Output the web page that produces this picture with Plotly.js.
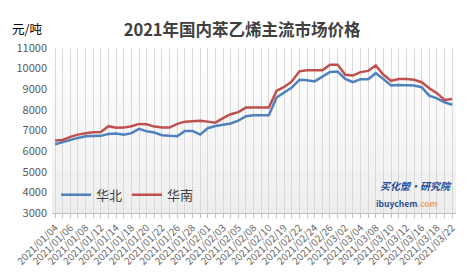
<!DOCTYPE html>
<html>
<head>
<meta charset="utf-8">
<script src="https://cdn.plot.ly/plotly-3.0.1.min.js"></script>
<style>html,body{margin:0;padding:0;background:#fff;}#chart{width:472px;height:274px;}</style>
</head>
<body>
<div id="chart"></div>
<script>
const dates = ["2021/01/04","2021/01/05","2021/01/06","2021/01/07","2021/01/08","2021/01/11","2021/01/12","2021/01/13","2021/01/14","2021/01/15",
"2021/01/18","2021/01/19","2021/01/20","2021/01/21","2021/01/22","2021/01/25","2021/01/26","2021/01/27","2021/01/28","2021/01/29",
"2021/02/01","2021/02/02","2021/02/03","2021/02/04","2021/02/05","2021/02/07","2021/02/08","2021/02/09","2021/02/10","2021/02/18",
"2021/02/19","2021/02/20","2021/02/22","2021/02/23","2021/02/24","2021/02/25","2021/02/26","2021/03/01","2021/03/02","2021/03/03",
"2021/03/04","2021/03/05","2021/03/08","2021/03/09","2021/03/10","2021/03/11","2021/03/12","2021/03/15","2021/03/16","2021/03/17",
"2021/03/18","2021/03/19","2021/03/22"];
const huabei = [6330,6430,6560,6640,6720,6740,6740,6830,6850,6800,
6870,7080,6960,6900,6770,6740,6720,6980,6980,6800,
7110,7220,7270,7340,7480,7690,7740,7740,7740,8600,
8860,9080,9460,9440,9380,9590,9840,9860,9500,9340,
9490,9490,9780,9490,9180,9210,9210,9180,9100,8690,
8560,8370,8250];
const huanan = [6520,6540,6690,6800,6870,6920,6930,7210,7130,7140,
7210,7320,7300,7190,7140,7140,7320,7430,7450,7470,
7430,7380,7600,7790,7890,8110,8110,8110,8110,8920,
9110,9380,9870,9920,9920,9920,10190,10190,9700,9670,
9830,9890,10150,9700,9410,9500,9500,9460,9340,9050,
8810,8480,8530];
const tickLabels = dates.map((d,i)=> i%2===0 ? d : "");
const seriesNames = ["华北","华南"];

const font = "'Noto Sans CJK SC', 'Noto Sans', sans-serif";

const traces = [
  {x: dates, y: huabei, name: seriesNames[0], type: "scatter", mode: "lines",
   line: {color: "#4f81bd", width: 2.5}},
  {x: dates, y: huanan, name: seriesNames[1], type: "scatter", mode: "lines",
   line: {color: "#c0504d", width: 2.5}}
];

// subtle vertical gradient in plot background
const shapes = [];
const steps = 12;
for (let k = 0; k < steps; k++) {
  const t = k / (steps - 1);
  const g = Math.round(255 - 17 * t);
  shapes.push({type: "rect", xref: "paper", yref: "paper", x0: 0, x1: 1,
    y0: 1 - (k + 1) / steps, y1: 1 - k / steps,
    fillcolor: `rgb(${g},${g},${g})`, line: {width: 0}, layer: "below"});
}

const layout = {
  width: 472, height: 274,
  margin: {l: 52, r: 16, t: 48, b: 61},
  paper_bgcolor: "#ffffff",
  plot_bgcolor: "rgba(0,0,0,0)",
  font: {family: font, color: "#595959"},
  showlegend: true,
  title: {text: "<b>2021年国内苯乙烯主流市场价格</b>", x: 0.513, xanchor: "center", y: 0.89, yanchor: "middle",
    font: {size: 16.5, color: "#404040", family: font}},
  xaxis: {type: "category", range: [-0.4, 52.5], tickvals: dates, ticktext: tickLabels,
    tickangle: -45, tickfont: {size: 10, color: "#6a6a6a", family: font},
    showgrid: true, gridcolor: "#d9d9d9", gridwidth: 1,
    showline: true, linecolor: "#bfbfbf", linewidth: 1,
    ticks: "outside", ticklen: 4, tickcolor: "#bfbfbf", zeroline: false, fixedrange: true},
  yaxis: {range: [3000, 11000], dtick: 1000, tick0: 3000, tickformat: "d", showgrid: false, zeroline: false,
    showline: false, ticks: "", tickfont: {size: 11, color: "#595959", family: font},
    ticklabelstandoff: 4, fixedrange: true},
  legend: {orientation: "h", x: 0.01, xanchor: "left", y: 0.11, yanchor: "middle",
    bgcolor: "rgba(0,0,0,0)", font: {size: 13, color: "#404040", family: font},
    itemwidth: 30, tracegroupgap: 0},
  shapes: shapes,
  annotations: [
    {text: "元/吨", xref: "paper", yref: "paper", x: -0.103, y: 1.12, xanchor: "left", yanchor: "middle",
     showarrow: false, font: {size: 12.5, color: "#000000", family: font}},
    {text: "<b><i>买化塑·研究院</i></b>", xref: "paper", yref: "paper", x: 0.995, y: 0.165, xanchor: "right", yanchor: "middle",
     showarrow: false, font: {size: 10, color: "#1f4e9a", family: font}},
    {text: "<b>ibuychem<span style='color:#f0a070'>.com</span></b>", xref: "paper", yref: "paper", x: 0.96, y: 0.06, xanchor: "right", yanchor: "middle",
     showarrow: false, font: {size: 8.5, color: "#2a4f9a", family: font}}
  ]
};

Plotly.newPlot("chart", traces, layout, {displayModeBar: false, staticPlot: true});
</script>
</body>
</html>
